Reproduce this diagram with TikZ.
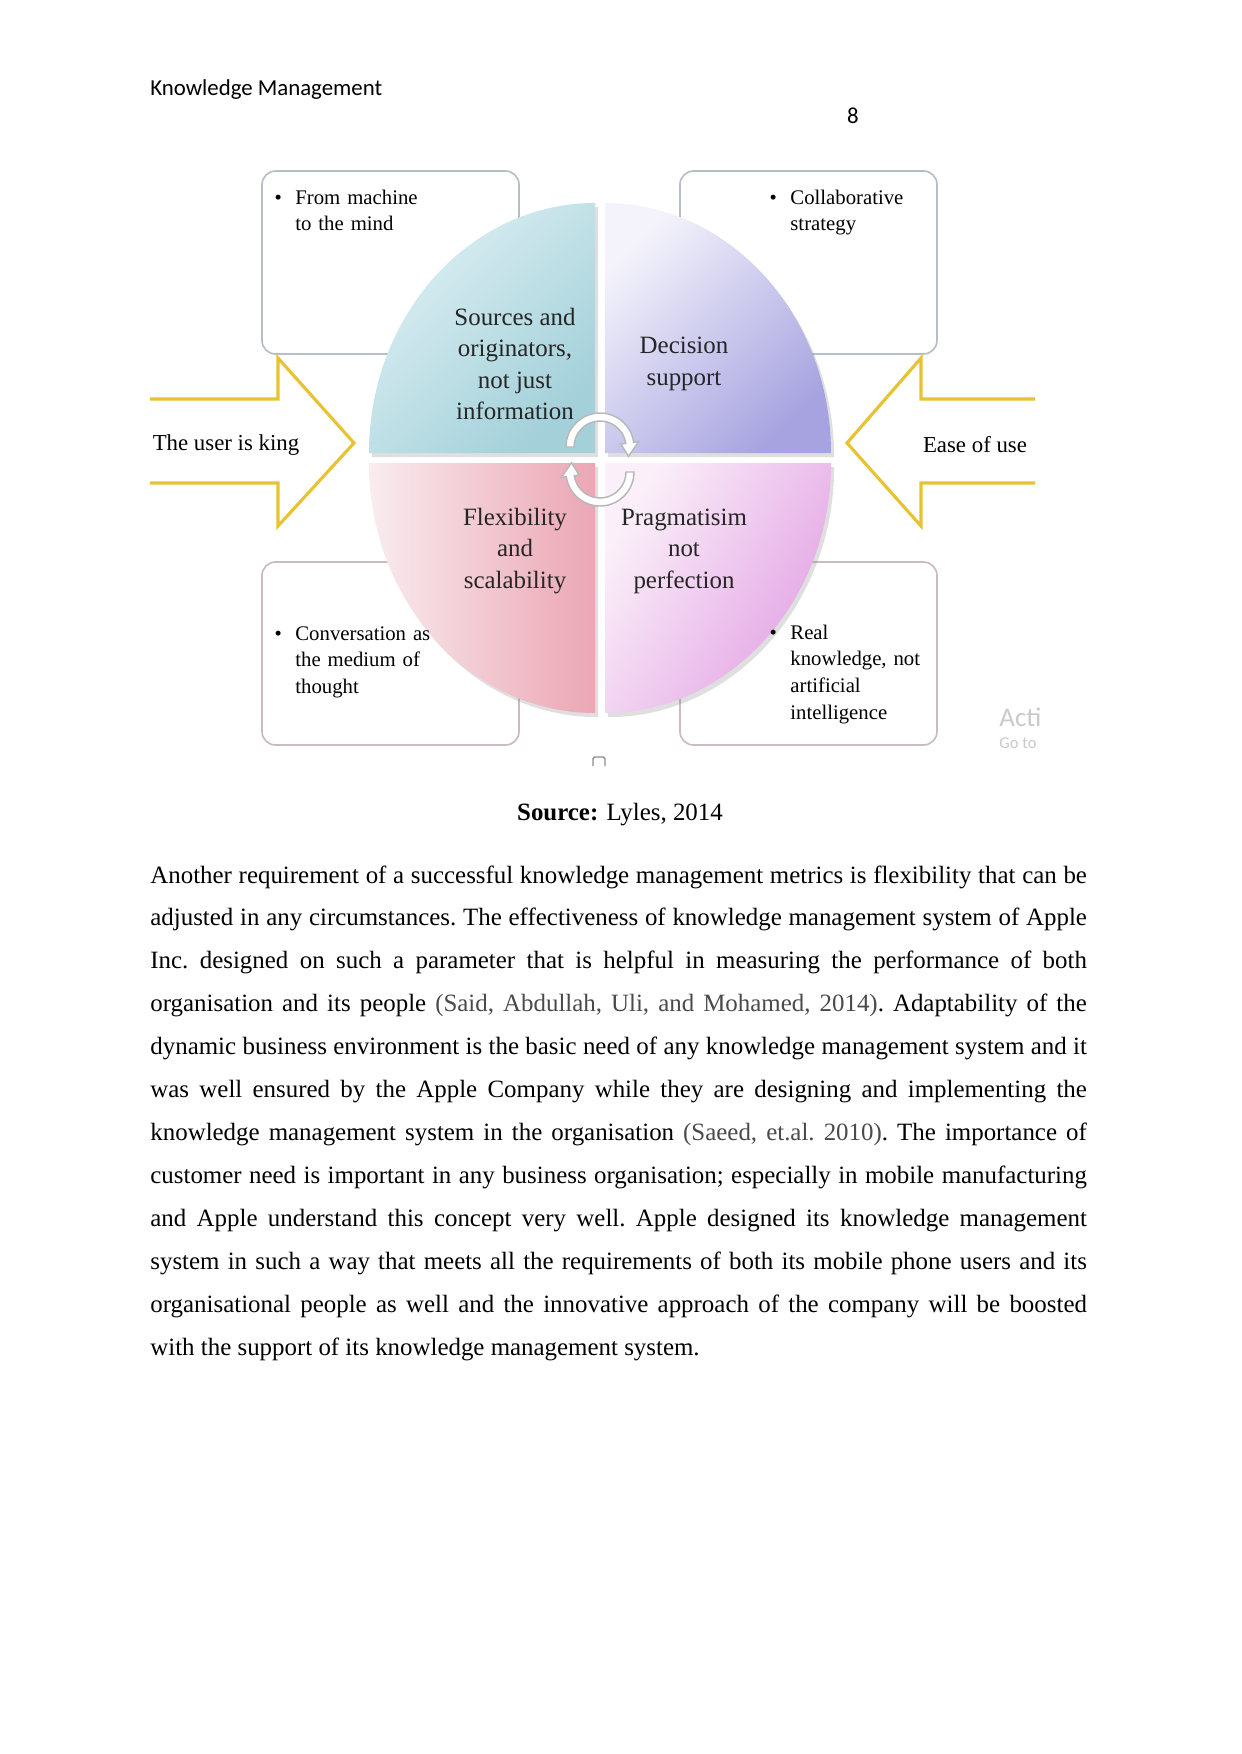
\documentclass[tikz,border=0pt]{standalone}
\usepackage{fontspec}
\setmainfont{Liberation Serif}
\newfontfamily\calibri{Carlito}
\usetikzlibrary{arrows.meta, positioning, shadows, calc}
\definecolor{kingyellow}{HTML}{E8C230}
\definecolor{boxtop}{HTML}{B7BEC8}
\definecolor{boxbot}{HTML}{CDBAC1}
\definecolor{srclight}{HTML}{DDF0F4}
\definecolor{srcdark}{HTML}{A3D0D9}
\definecolor{declight}{HTML}{F4F3FB}
\definecolor{decdark}{HTML}{A6A3E0}
\definecolor{flexlight}{HTML}{F9ECEF}
\definecolor{flexdark}{HTML}{EBA6B4}
\definecolor{praglight}{HTML}{FBF0F9}
\definecolor{pragdark}{HTML}{E2A1E4}
\definecolor{citegray}{HTML}{4A4A4A}
\definecolor{watermark}{HTML}{CACACA}
\tikzset{
  bulletbox/.style={rounded corners=6.5bp, line width=0.8bp, fill=white},
  bullettext/.style={anchor=base west, inner sep=0pt, text width=#1,
    align=left, font=\fontsize{10}{13}\selectfont},
  quadtext/.style={align=center, inner sep=0pt,
    font=\fontsize{12}{15.2}\selectfont, text=black!85},
  userarrow/.style={draw=kingyellow, line width=1.5bp, line join=miter},
  turnarrow/.style={fill=white, draw=black!28, line width=0.7bp},
  wheelshadow/.style={drop shadow={shadow xshift=1.5bp, shadow yshift=-2bp,
    opacity=0.25}}
}
\newcommand{\bul}{\llap{\textbullet\hspace{6.5bp}}}

\begin{document}
\begin{tikzpicture}[x=0.48bp, y=-0.48bp]
  \fill[white] (0,0) rectangle (1241,1754);
  \useasboundingbox (0,0) rectangle (1241,1754);

  % Running head
  \node[anchor=base west, inner sep=0pt, font=\calibri\fontsize{11}{13}\selectfont]
    (head) at (150,95) {Knowledge Management};
  \node[anchor=base, inner sep=0pt, font=\calibri\fontsize{11}{13}\selectfont]
    (pageno) at (853,123) {8};

  % Bullet boxes (behind the wheel)
  \foreach \x/\y/\c in {262/171/boxtop, 680/171/boxtop, 262/562/boxbot, 680/562/boxbot}
    \draw[bulletbox, draw=\c] (\x,\y) rectangle ++(257,183);

  % Yellow block arrows
  \draw[userarrow] (150,399) -- (278,399) -- (278,358) -- (354,443)
    -- (278,526) -- (278,483) -- (150,483);
  \draw[userarrow] (1035,399) -- (921,399) -- (921,358) -- (847,443)
    -- (921,526) -- (921,483) -- (1035,483);
  \node[font=\fontsize{11}{13}\selectfont] (king) at (226,445) {The user is king};
  \node[font=\fontsize{11}{13}\selectfont] (ease) at (975,445) {Ease of use};

  % Wheel quadrants
  \shade[wheelshadow, top color=srclight, bottom color=srcdark, shading angle=45]
    (595,453) -- (369,453) arc[start angle=180, end angle=270, x radius=226, y radius=250] -- cycle;
  \shade[wheelshadow, top color=declight, bottom color=decdark, shading angle=45]
    (605,453) -- (605,203) arc[start angle=270, end angle=360, x radius=226, y radius=250] -- cycle;
  \shade[wheelshadow, left color=flexlight, right color=flexdark]
    (595,463) -- (595,713) arc[start angle=90, end angle=180, x radius=226, y radius=250] -- cycle;
  \shade[wheelshadow, top color=praglight, bottom color=pragdark, shading angle=60]
    (605,463) -- (831,463) arc[start angle=0, end angle=90, x radius=226, y radius=250] -- cycle;

  % Turning arrows in the middle
  \begin{scope}[shift={(600,447)}]
    \filldraw[turnarrow] (180:34) arc[start angle=180, end angle=352, radius=34]
      -- (352:39) -- (378:30) -- (352:21) -- (352:26)
      arc[start angle=352, end angle=180, radius=26] -- cycle;
  \end{scope}
  \begin{scope}[shift={(600,472)}]
    \filldraw[turnarrow] (0:34) arc[start angle=0, end angle=172, radius=34]
      -- (172:39) -- (198:30) -- (172:21) -- (172:26)
      arc[start angle=172, end angle=0, radius=26] -- cycle;
  \end{scope}

  % Quadrant labels
  \node[quadtext] (sources) at (515,364) {Sources and\\originators,\\not just\\information};
  \node[quadtext] (decision) at (684,364) {Decision\\support};
  \node[quadtext] (flex) at (515,551) {Flexibility\\and\\scalability};
  \node[quadtext] (prag) at (684,551) {Pragmatisim\\not\\perfection};

  % Bullet texts
  \node[bullettext=120bp] (machine) at (295,204) {\bul From machine\\to the mind};
  \node[bullettext=120bp] (collab) at (790,204) {\bul Collaborative\\strategy};
  \node[bullettext=120bp] (convers) at (295,640) {\bul Conversation as\\the medium of\\thought};
  \node[bullettext=120bp] (real) at (790,639) {\bul Real\\knowledge, not\\artificial\\intelligence};

  % Screen residue
  \node[anchor=base west, inner sep=0pt, text=watermark, font=\calibri\fontsize{13}{15}\selectfont]
    (acti) at (999,726) {Acti};
  \node[anchor=base west, inner sep=0pt, text=watermark, font=\calibri\fontsize{8}{10}\selectfont]
    (goto) at (999,748) {Go to};
  \draw[black!45, line width=0.7bp, rounded corners=0.8bp]
    (593,766) -- (593,757) -- (605,757) -- (605,766);

  % Caption
  \node[anchor=base, inner sep=0pt, font=\fontsize{12}{14}\selectfont]
    (source) at (620,820) {\textbf{Source:} Lyles, 2014};

  % Body paragraph
  \node[anchor=base west, inner sep=0pt, text width=449.5bp, align=justify,
        font=\fontsize{12}{20.7}\selectfont]
    (body) at (150,883) {\frenchspacing\hyphenpenalty=10000\relax\tolerance=10000\relax
    Another requirement of a successful knowledge management metrics is flexibility that can be\linebreak
    adjusted in any circumstances. The effectiveness of knowledge management system of Apple\linebreak
    Inc. designed on such a parameter that is helpful in measuring the performance of both\linebreak
    organisation and its people {\color{citegray}(Said, Abdullah, Uli, and Mohamed, 2014)}. Adaptability of the\linebreak
    dynamic business environment is the basic need of any knowledge management system and it\linebreak
    was well ensured by the Apple Company while they are designing and implementing the\linebreak
    knowledge management system in the organisation {\color{citegray}(Saeed, et.al. 2010)}. The importance of\linebreak
    customer need is important in any business organisation; especially in mobile manufacturing\linebreak
    and Apple understand this concept very well. Apple designed its knowledge management\linebreak
    system in such a way that meets all the requirements of both its mobile phone users and its\linebreak
    organisational people as well and the innovative approach of the company will be boosted\linebreak
    with the support of its knowledge management system.};
\end{tikzpicture}
\end{document}
